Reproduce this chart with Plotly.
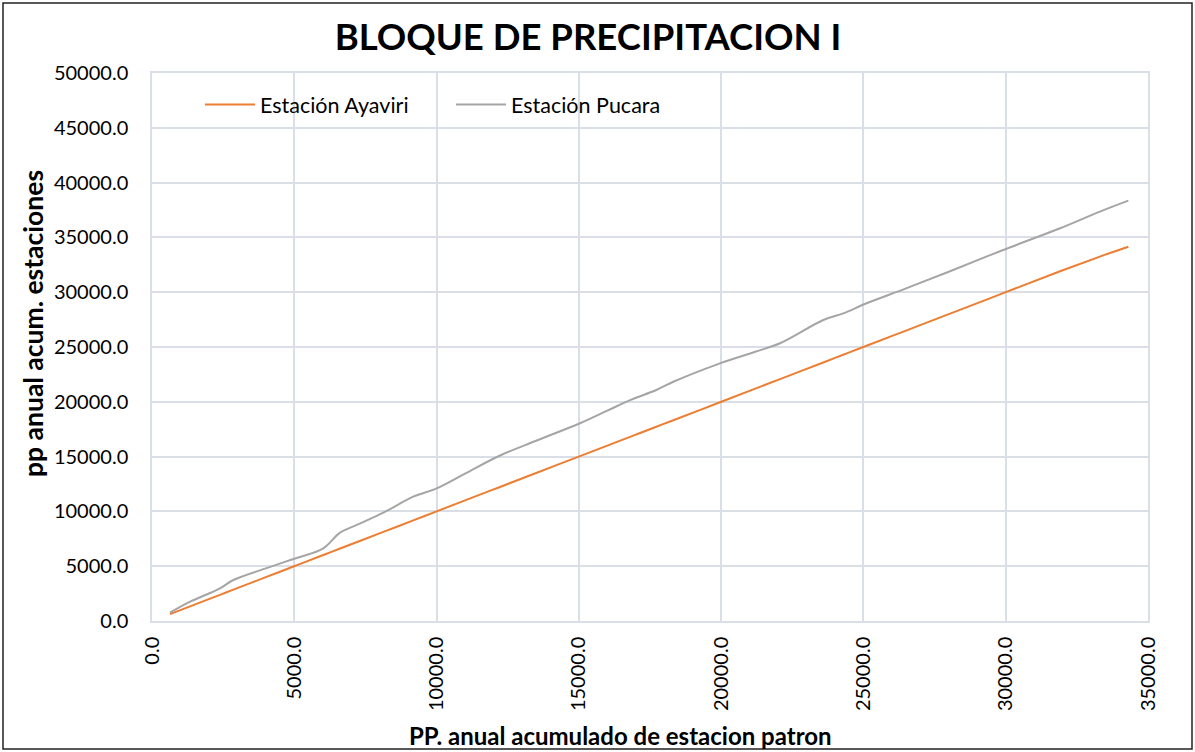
import plotly.graph_objects as go

# Accumulated annual precipitation of the reference (patron) station
patron_acum = [630, 1340, 2390, 2860, 4000, 4970, 6020, 6610, 7300, 8130, 9180,
               10000, 11000, 12230, 13500, 15040, 16000, 16800, 17700, 18320,
               19960, 21200, 22070, 23590, 24290, 25110, 26500, 28000, 29910,
               31910, 33310, 34310]

# Accumulated annual precipitation at each station
ayaviri_acum = [630, 1340, 2390, 2860, 4000, 4970, 6020, 6610, 7300, 8130, 9180,
                10000, 11000, 12230, 13500, 15040, 16000, 16800, 17700, 18320,
                19960, 21200, 22070, 23590, 24290, 25110, 26500, 28000, 29910,
                31910, 33250, 34150]
pucara_acum = [760, 1760, 2980, 3740, 4800, 5660, 6630, 8060, 8880, 9880, 11340,
               12100, 13450, 15100, 16450, 18040, 19190, 20160, 21050, 21830,
               23510, 24570, 25340, 27460, 28070, 28990, 30350, 31870, 33850,
               35830, 37350, 38350]

x_ticks = [0, 5000, 10000, 15000, 20000, 25000, 30000, 35000]
y_ticks = [0, 5000, 10000, 15000, 20000, 25000, 30000, 35000, 40000, 45000, 50000]

FONT = "Lato"
W, H = 1195, 752
ML, MR, MT, MB = 152, 47, 73, 131
grid_col = "#D9DEE7"

fig = go.Figure()
fig.add_trace(go.Scatter(x=patron_acum, y=ayaviri_acum, mode="lines",
                         name="Estación Ayaviri", line=dict(color="#ED7D31", width=2, shape="spline")))
fig.add_trace(go.Scatter(x=patron_acum, y=pucara_acum, mode="lines",
                         name="Estación Pucara", line=dict(color="#A5A5A5", width=2, shape="spline")))

pw, ph = W - ML - MR, H - MT - MB
# outer chart border
fig.add_shape(type="rect", xref="paper", yref="paper",
              x0=(3 - ML) / pw, x1=(W - 3 - ML) / pw,
              y0=-(H - 3 - MT - ph) / ph, y1=1 + (MT - 3) / ph,
              line=dict(color="#222222", width=1.5))

# axis titles placed as annotations in pixel-derived paper coordinates
fig.add_annotation(text="<b>PP. anual acumulado de estacion patron</b>",
                   xref="paper", yref="paper", x=(620 - ML) / pw, y=-(735 - MT - ph) / ph,
                   xanchor="center", yanchor="middle", showarrow=False,
                   font=dict(size=24, family=FONT))
fig.add_annotation(text="<b>pp anual acum. estaciones</b>", textangle=-90,
                   xref="paper", yref="paper", x=(33 - ML) / pw, y=1 - (324 - MT) / ph,
                   xanchor="center", yanchor="middle", showarrow=False,
                   font=dict(size=26.5, family=FONT))

fig.update_layout(
    width=W, height=H,
    margin=dict(l=ML, r=MR, t=MT, b=MB),
    paper_bgcolor="white", plot_bgcolor="white",
    font=dict(family=FONT, color="#000000", size=20),
    title=dict(text="<b>BLOQUE DE PRECIPITACION I</b>", x=588 / W, xanchor="center",
               y=1 - 37 / H, yanchor="middle", font=dict(size=36.5, family=FONT)),
    legend=dict(orientation="h", x=(200 - ML) / pw, y=0.98, xanchor="left", yanchor="top",
                font=dict(size=21.5), bgcolor="rgba(0,0,0,0)", itemwidth=50,
                entrywidthmode="pixels", entrywidth=186),
    showlegend=True,
)
fig.update_xaxes(range=[0, 35000], tickvals=x_ticks,
                 ticktext=[f"{v:.1f}" for v in x_ticks], tickangle=-90,
                 showgrid=True, gridcolor=grid_col, gridwidth=1.5,
                 showline=True, linecolor=grid_col, linewidth=1.5, mirror=True,
                 zeroline=False, ticks="", ticklabelstandoff=6)
fig.update_yaxes(range=[0, 50000], tickvals=y_ticks,
                 ticktext=[f"{v:.1f}" for v in y_ticks],
                 showgrid=True, gridcolor=grid_col, gridwidth=1.5,
                 showline=True, linecolor=grid_col, linewidth=1.5, mirror=True,
                 zeroline=False, ticks="", ticklabelstandoff=18)

fig.write_html("out.html")
